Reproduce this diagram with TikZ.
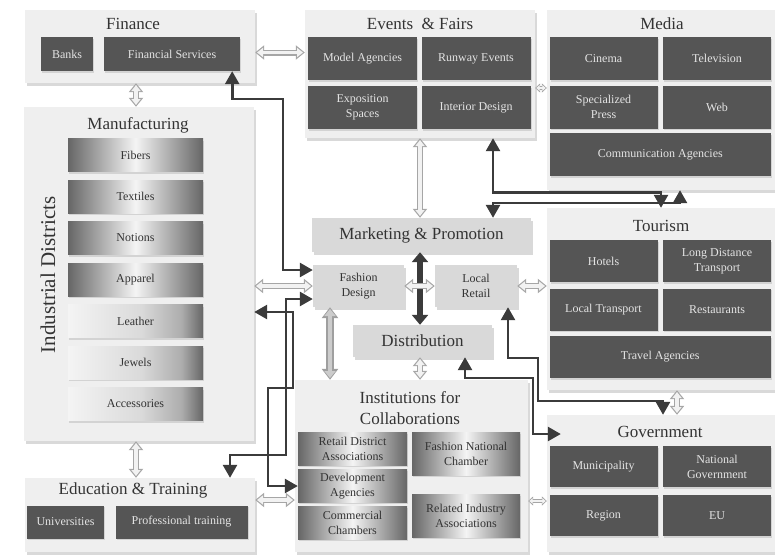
\documentclass[tikz,border=0pt]{standalone}
\usepackage{fontspec}
\setmainfont{Liberation Serif}
\usepackage{tikz}
\usetikzlibrary{positioning,shadows,arrows.meta}

\definecolor{panelbg}{HTML}{EFEFEF}
\definecolor{boxdark}{HTML}{555555}
\definecolor{boxmid}{HTML}{D9D9D9}
\definecolor{linkdark}{HTML}{3B3B3B}
\definecolor{txtlight}{HTML}{E4E4E4}
\definecolor{txtdark}{HTML}{333333}
\definecolor{bardark}{HTML}{666666}
\definecolor{barlight}{HTML}{F4F4F4}
\definecolor{barhalf}{HTML}{DADADA}
\definecolor{barshade}{HTML}{ADADAD}

\pgfdeclarehorizontalshading{barcentre}{100bp}{color(0bp)=(bardark); color(25bp)=(bardark); color(50bp)=(barlight); color(75bp)=(bardark); color(100bp)=(bardark)}
\pgfdeclarehorizontalshading{barfade}{100bp}{color(0bp)=(barlight); color(25bp)=(barlight); color(52bp)=(barhalf); color(67bp)=(barshade); color(75bp)=(bardark); color(100bp)=(bardark)}

\begin{document}
\begin{tikzpicture}[x=1pt,y=-1pt,on grid,
    panel/.style={fill=panelbg, inner sep=0pt, drop shadow={opacity=0.3,shadow xshift=2pt,shadow yshift=-3pt}},
    ptitle/.style={text=txtdark, font=\fontsize{17}{21}\selectfont, align=center},
    dbox/.style 2 args={fill=boxdark, text=txtlight, inner sep=0pt, align=center,
      minimum width=#1, minimum height=#2, font=\fontsize{12}{15}\selectfont,
      drop shadow={opacity=0.25,shadow xshift=1pt,shadow yshift=-1.5pt}},
    ibox/.style 2 args={shading=barcentre, text=txtdark, inner sep=0pt, align=center,
      minimum width=#1, minimum height=#2, font=\fontsize{12}{15}\selectfont,
      drop shadow={opacity=0.25,shadow xshift=1pt,shadow yshift=-1.5pt}},
    mbar/.style={shading=barcentre, text=txtdark, inner sep=0pt, minimum width=135pt,
      minimum height=33pt, font=\fontsize{12}{15}\selectfont,
      drop shadow={opacity=0.25,shadow xshift=1pt,shadow yshift=-2pt}},
    fbar/.style={mbar, shading=barfade},
    mbox/.style={fill=boxmid, text=txtdark, inner sep=0pt, align=center,
      font=\fontsize{12}{15}\selectfont,
      drop shadow={opacity=0.3,shadow xshift=2pt,shadow yshift=-2.5pt}},
    link/.style={draw=linkdark, line width=2.6pt,
      {Triangle[length=13pt,width=14pt]}-{Triangle[length=13pt,width=14pt]}},
    hollow/.style={draw=gray!10, line width=3.6pt, shorten <=1.8pt, shorten >=1.8pt,
      {Triangle[length=6pt,width=9pt]}-{Triangle[length=6pt,width=9pt]},
      preaction={draw=gray!70, line width=6pt, shorten <=0pt, shorten >=0pt,
        {Triangle[length=9pt,width=14pt]}-{Triangle[length=9pt,width=14pt]}}},
    hollowsmall/.style={draw=gray!10, line width=2.2pt, shorten <=1.2pt, shorten >=1.2pt,
      {Triangle[length=3.2pt,width=5.5pt]}-{Triangle[length=3.2pt,width=5.5pt]},
      preaction={draw=gray!70, line width=4.4pt, shorten <=0pt, shorten >=0pt,
        {Triangle[length=5pt,width=9pt]}-{Triangle[length=5pt,width=9pt]}}},
    fatdark/.style={draw=linkdark, line width=6pt,
      {Triangle[length=10pt,width=16pt]}-{Triangle[length=10pt,width=16pt]}},
    fatgray/.style={draw=gray!40, line width=4pt, shorten <=1.8pt, shorten >=1.8pt,
      {Triangle[length=7pt,width=11pt]}-{Triangle[length=7pt,width=11pt]},
      preaction={draw=gray!75, line width=7.5pt, shorten <=0pt, shorten >=0pt,
        {Triangle[length=11pt,width=16pt]}-{Triangle[length=11pt,width=16pt]}}}]
  \useasboundingbox (0,0) rectangle (775,554);

  % panels
  \node[panel, minimum width=230pt, minimum height=73pt] (p_fin) at (140,46.5) {};
  \node[panel, minimum width=230pt, minimum height=128pt] (p_evt) at (420,74) {};
  \node[panel, minimum width=228pt, minimum height=180pt] (p_med) at (661,100) {};
  \node[panel, minimum width=230pt, minimum height=334pt] (p_man) at (139,274) {};
  \node[panel, minimum width=230pt, minimum height=74pt] (p_edu) at (140,515) {};
  \node[panel, minimum width=228pt, minimum height=182pt] (p_tou) at (661,299) {};
  \node[panel, minimum width=233pt, minimum height=172pt] (p_ins) at (411.5,466) {};
  \node[panel, minimum width=228pt, minimum height=137pt] (p_gov) at (661,483.5) {};

  \node[ptitle] (t_fin) at (133,24) {Finance};
  \node[ptitle] (t_evt) at (420,24) {Events\ \ \& Fairs};
  \node[ptitle] (t_med) at (662,24) {Media};
  \node[ptitle] (t_man) at (138,125) {Manufacturing};
  \node[ptitle] (t_edu) at (133,490) {Education \& Training};
  \node[ptitle] (t_tou) at (661,226) {Tourism};
  \node[ptitle] (t_ins) at (410,408) {Institutions for\\Collaborations};
  \node[ptitle] (t_gov) at (660,432) {Government};
  \node[ptitle, rotate=90, font=\fontsize{21}{24}\selectfont] (t_ind) at (48,275) {Industrial Districts};

  % finance
  \node[dbox={52pt}{34pt}] (b_banks) at (67,54) {Banks};
  \node[dbox={136pt}{34pt}] (b_finsvc) [right=105pt of b_banks] {Financial Services};
  % events and fairs
  \node[dbox={109pt}{43pt}] (b_model) at (362.5,58.5) {Model Agencies};
  \node[dbox={109pt}{43pt}] (b_runway) [right=113.5pt of b_model] {Runway Events};
  \node[dbox={109pt}{43pt}] (b_expo) [below=49pt of b_model] {Exposition\\Spaces};
  \node[dbox={109pt}{43pt}] (b_interior) [below=49pt of b_runway] {Interior Design};
  % media
  \node[dbox={108pt}{43pt}] (b_cinema) at (603.5,58.5) {Cinema};
  \node[dbox={108pt}{43pt}] (b_tv) [right=113.5pt of b_cinema] {Television};
  \node[dbox={108pt}{43pt}] (b_press) [below=48.5pt of b_cinema] {Specialized\\Press};
  \node[dbox={108pt}{43pt}] (b_web) [below=48.5pt of b_tv] {Web};
  \node[dbox={221.5pt}{43pt}] (b_comm) at (660.25,154.5) {Communication Agencies};
  % tourism
  \node[dbox={108pt}{42pt}] (b_hotels) at (603.5,261) {Hotels};
  \node[dbox={108pt}{42pt}] (b_longdist) [right=113.5pt of b_hotels] {Long Distance\\Transport};
  \node[dbox={108pt}{42pt}] (b_localtr) [below=48.5pt of b_hotels] {Local Transport};
  \node[dbox={108pt}{42pt}] (b_restaur) [below=48.5pt of b_longdist] {Restaurants};
  \node[dbox={221.5pt}{42pt}] (b_travel) at (660.25,357) {Travel Agencies};
  % government
  \node[dbox={108pt}{41pt}] (b_muni) at (603.5,466.5) {Municipality};
  \node[dbox={108pt}{41pt}] (b_natgov) [right=113.5pt of b_muni] {National\\Government};
  \node[dbox={108pt}{41pt}] (b_region) [below=49pt of b_muni] {Region};
  \node[dbox={108pt}{41pt}] (b_eu) [below=49pt of b_natgov] {EU};
  % education
  \node[dbox={77pt}{33pt}] (b_univ) at (65.5,522) {Universities};
  \node[dbox={132pt}{33pt}] (b_proftr) [right=116pt of b_univ] {Professional training};

  % manufacturing bars
  \node[mbar] (b_fibers) at (135.5,155) {Fibers};
  \node[mbar] (b_textiles) [below=41.5pt of b_fibers] {Textiles};
  \node[mbar] (b_notions) [below=41.5pt of b_textiles] {Notions};
  \node[mbar] (b_apparel) [below=41.5pt of b_notions] {Apparel};
  \node[fbar] (b_leather) [below=41.5pt of b_apparel] {Leather};
  \node[fbar] (b_jewels) [below=41.5pt of b_leather] {Jewels};
  \node[fbar] (b_access) [below=41.5pt of b_jewels] {Accessories};

  % institutions
  \node[ibox={109pt}{33pt}] (b_retaildist) at (352.5,448.5) {Retail District\\Associations};
  \node[ibox={109pt}{33pt}] (b_devag) [below=37.5pt of b_retaildist] {Development\\Agencies};
  \node[ibox={109pt}{33pt}] (b_commch) [below=36.5pt of b_devag] {Commercial\\Chambers};
  \node[ibox={108pt}{43pt}] (b_fnc) at (466,453.5) {Fashion National\\Chamber};
  \node[ibox={108pt}{43pt}] (b_relind) [below=62pt of b_fnc] {Related Industry\\Associations};

  % centre
  \node[mbox, minimum width=219pt, minimum height=34pt, font=\fontsize{17}{20}\selectfont] (b_mkt) at (421.5,235) {Marketing \& Promotion};
  \node[mbox, minimum width=91pt, minimum height=42pt] (b_fashion) at (358.5,286) {Fashion\\Design};
  \node[mbox, minimum width=82pt, minimum height=42pt] (b_retail) at (476,286) {Local\\Retail};
  \node[mbox, minimum width=139pt, minimum height=32pt, font=\fontsize{17}{20}\selectfont] (b_distr) at (422.5,341) {Distribution};

  % wide arrows
  \draw[fatdark] ([xshift=-1.5pt]b_mkt.south) -- ([xshift=-1.5pt]b_mkt.south |- b_distr.north);
  \draw[fatgray] ([xshift=-28.5pt]b_fashion.south) -- ([xshift=-28.5pt]b_fashion.south |- p_ins.north);
  \draw[hollow] ([yshift=-6pt]p_fin.east) -- ([yshift=-6pt]p_fin.east -| p_evt.west);
  \draw[hollow] ([xshift=-4pt]p_fin.south) -- ([xshift=-4pt]p_fin.south |- p_man.north);
  \draw[hollowsmall] ([yshift=-14pt]p_evt.east) -- ([yshift=-14pt]p_evt.east -| p_med.west);
  \draw[hollow] (p_evt.south) -- (p_evt.south |- b_mkt.north);
  \draw[hollow] (b_fashion.west) -- (b_fashion.west -| p_man.east);
  \draw[hollow] (b_fashion.east) -- (b_retail.west);
  \draw[hollow] (b_retail.east) -- (b_retail.east -| p_tou.west);
  \draw[hollow] ([xshift=-2.5pt]b_distr.south) -- ([xshift=-2.5pt]b_distr.south |- p_ins.north);
  \draw[hollow] ([xshift=-3pt]p_man.south) -- ([xshift=-3pt]p_man.south |- p_edu.north);
  \draw[hollow] ([yshift=15pt]p_edu.east) -- ([yshift=15pt]p_edu.east -| p_ins.west);
  \draw[hollowsmall] ([yshift=-35pt]p_ins.east) -- ([yshift=-35pt]p_ins.east -| p_gov.west);
  \draw[hollow] ([xshift=16pt]p_tou.south) -- ([xshift=16pt]p_tou.south |- p_gov.north);

  % elbow links
  \draw[link] ([xshift=-8pt]b_finsvc.south east) |- (283,99) |- ([yshift=16pt]b_fashion.west);
  \draw[link] ([yshift=-13pt]b_fashion.west) -| (286,455) -| ([xshift=90pt]p_edu.north);
  \draw[link] ([yshift=-38pt]p_man.east) -| (293,388) -| (268,486) -- (b_devag.west);
  \draw[link] ([xshift=73pt]p_evt.south) -- ++(0,54) -| (p_tou.north);
  \draw[link] ([xshift=71.5pt]b_mkt.north) -- ++(0,-15) -| ([xshift=19pt]p_med.south);
  \draw[link] ([xshift=42.5pt]b_distr.south) |- (533,378) |- ([xshift=14pt,yshift=49.5pt]p_gov.west);
  \draw[link] ([xshift=32pt]b_retail.south) |- (538,358) |- (663,401) -- ([xshift=2pt]p_gov.north);
\end{tikzpicture}
\end{document}
